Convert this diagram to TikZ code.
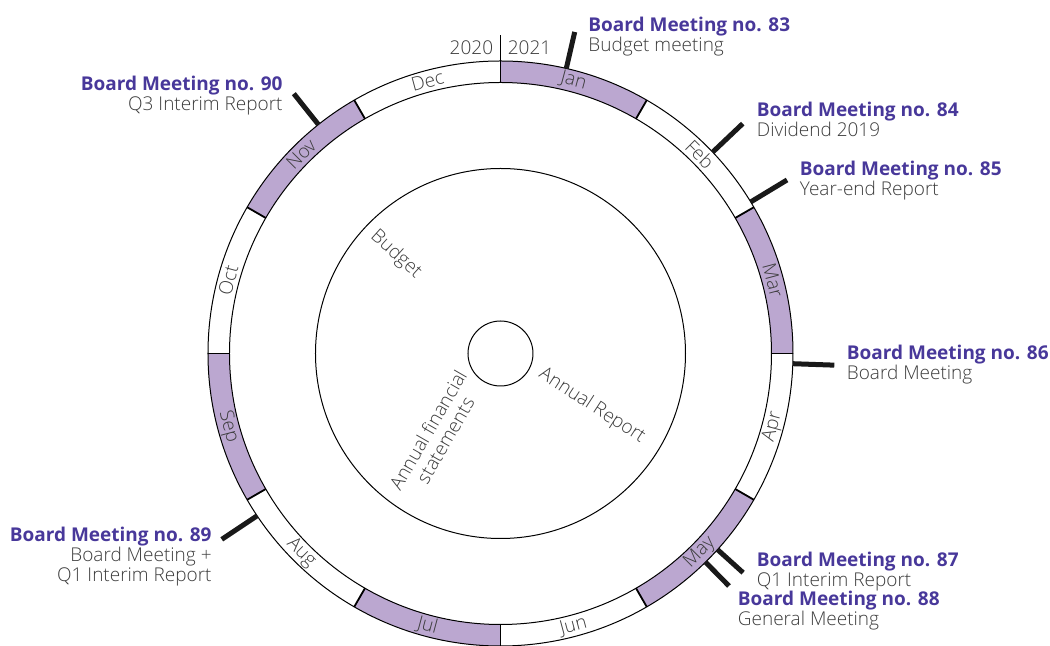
\documentclass[tikz,border=0pt]{standalone}
\usepackage{fontspec}
\setmainfont{Open Sans}[UprightFont={* Light},BoldFont={* Bold}]
\usepackage{tikz}
\definecolor{bmpurple}{RGB}{72,56,154}
\definecolor{monthfill}{RGB}{187,167,208}
\definecolor{textgray}{RGB}{60,60,60}
\tikzset{
% Styles for the year wheel: ring lines, ticks and the texts
ring line/.style={draw=black,line width=0.5pt},
month line/.style={draw=black,line width=0.9pt},
tick line/.style={draw=black!90,line width=2.5pt},
month label/.style={text=textgray,font=\fontsize{9.5}{10}\selectfont,inner sep=0},
meeting title/.style={text=bmpurple,font=\fontsize{9.5}{10}\selectfont\bfseries,inner sep=0},
meeting text/.style={text=textgray,font=\fontsize{9.5}{10}\selectfont,inner sep=0}
}

\begin{document}
\begin{tikzpicture}[x=0.5pt,y=0.5pt]
        \useasboundingbox (-500.5,-292.5) rectangle (549.5,353.5);
        % The month ring, Jan at the top, clockwise
        \foreach \m [count=\i from 0] in {Jan,Feb,Mar,Apr,May,Jun,Jul,Aug,Sep,Oct,Nov,Dec}{
          \pgfmathsetmacro{\a}{90-30*\i}
          \pgfmathsetmacro{\b}{\a-30}
          \pgfmathsetmacro{\c}{\a-15}
          \pgfmathsetmacro{\r}{ifthenelse(sin(\c)>=0,\c-90,\c+90)}
          \ifodd\i\else
            \fill[monthfill] (\a:292.5) arc[start angle=\a,end angle=\b,radius=292.5]
              -- (\b:271) arc[start angle=\b,end angle=\a,radius=271] -- cycle;
          \fi
          \draw[month line] (\a:271) -- (\a:292.5);
          \node[month label,rotate=\r] (\m) at (\c:282) {\m};
        }
        \draw[ring line] (0,0) circle[radius=292.5];
        \draw[ring line] (0,0) circle[radius=271];
        \draw[ring line] (0,0) circle[radius=185];
        \draw[ring line] (0,0) circle[radius=32.5];
        % Turn of the year
        \draw[line width=0.7pt] (90:271) -- (90:318);
        \node[meeting text,anchor=base east] (y2020) at (-7,298.5) {2020};
        \node[meeting text,anchor=base west] (y2021) at (7,298.5) {2021};
        % Texts inside the wheel
        \node[month label,rotate=-42] (budget) at (-104.5,99) {Budget};
        \node[month label,rotate=-33] (report) at (91.5,-52.5) {Annual Report};
        \node[month label,rotate=60,align=center] (statements) at (-64,-81.5)
          {Annual financial\\statements};
        % Ticks for the board meetings
        \foreach \t/\l in {77/330,43.5/334,31.2/335,-2/334,-42.1/327,-45.5/326,-146.3/335,128.5/332}
          \draw[tick line] (\t:292.5) -- (\t:\l);
        % Board meetings
        \node[meeting title,anchor=base west] (bm83) at (87.5,322) {Board Meeting no. 83};
        \node[meeting text,anchor=base west] (bm83t) at ([yshift=-10pt]bm83.base west) {Budget meeting};
        \node[meeting title,anchor=base west] (bm84) at (256,236.5) {Board Meeting no. 84};
        \node[meeting text,anchor=base west] (bm84t) at ([yshift=-10pt]bm84.base west) {Dividend 2019};
        \node[meeting title,anchor=base west] (bm85) at (299,177.5) {Board Meeting no. 85};
        \node[meeting text,anchor=base west] (bm85t) at ([yshift=-10pt]bm85.base west) {Year-end Report};
        \node[meeting title,anchor=base west] (bm86) at (346,-6.5) {Board Meeting no. 86};
        \node[meeting text,anchor=base west] (bm86t) at ([yshift=-10pt]bm86.base west) {Board Meeting};
        \node[meeting title,anchor=base west] (bm87) at (256,-213.5) {Board Meeting no. 87};
        \node[meeting text,anchor=base west] (bm87t) at ([yshift=-10pt]bm87.base west) {Q1 Interim Report};
        \node[meeting title,anchor=base west] (bm88) at (237,-252.5) {Board Meeting no. 88};
        \node[meeting text,anchor=base west] (bm88t) at ([yshift=-10pt]bm88.base west) {General Meeting};
        \node[meeting title,anchor=base east] (bm89) at (-288.5,-188.5) {Board Meeting no. 89};
        \node[meeting text,anchor=base east] (bm89t) at ([yshift=-10pt]bm89.base east) {Board Meeting +};
        \node[meeting text,anchor=base east] (bm89u) at ([yshift=-10pt]bm89t.base east) {Q1 Interim Report};
        \node[meeting title,anchor=base east] (bm90) at (-217.5,262.5) {Board Meeting no. 90};
        \node[meeting text,anchor=base east] (bm90t) at ([yshift=-10pt]bm90.base east) {Q3 Interim Report};
      \end{tikzpicture}
\end{document}
